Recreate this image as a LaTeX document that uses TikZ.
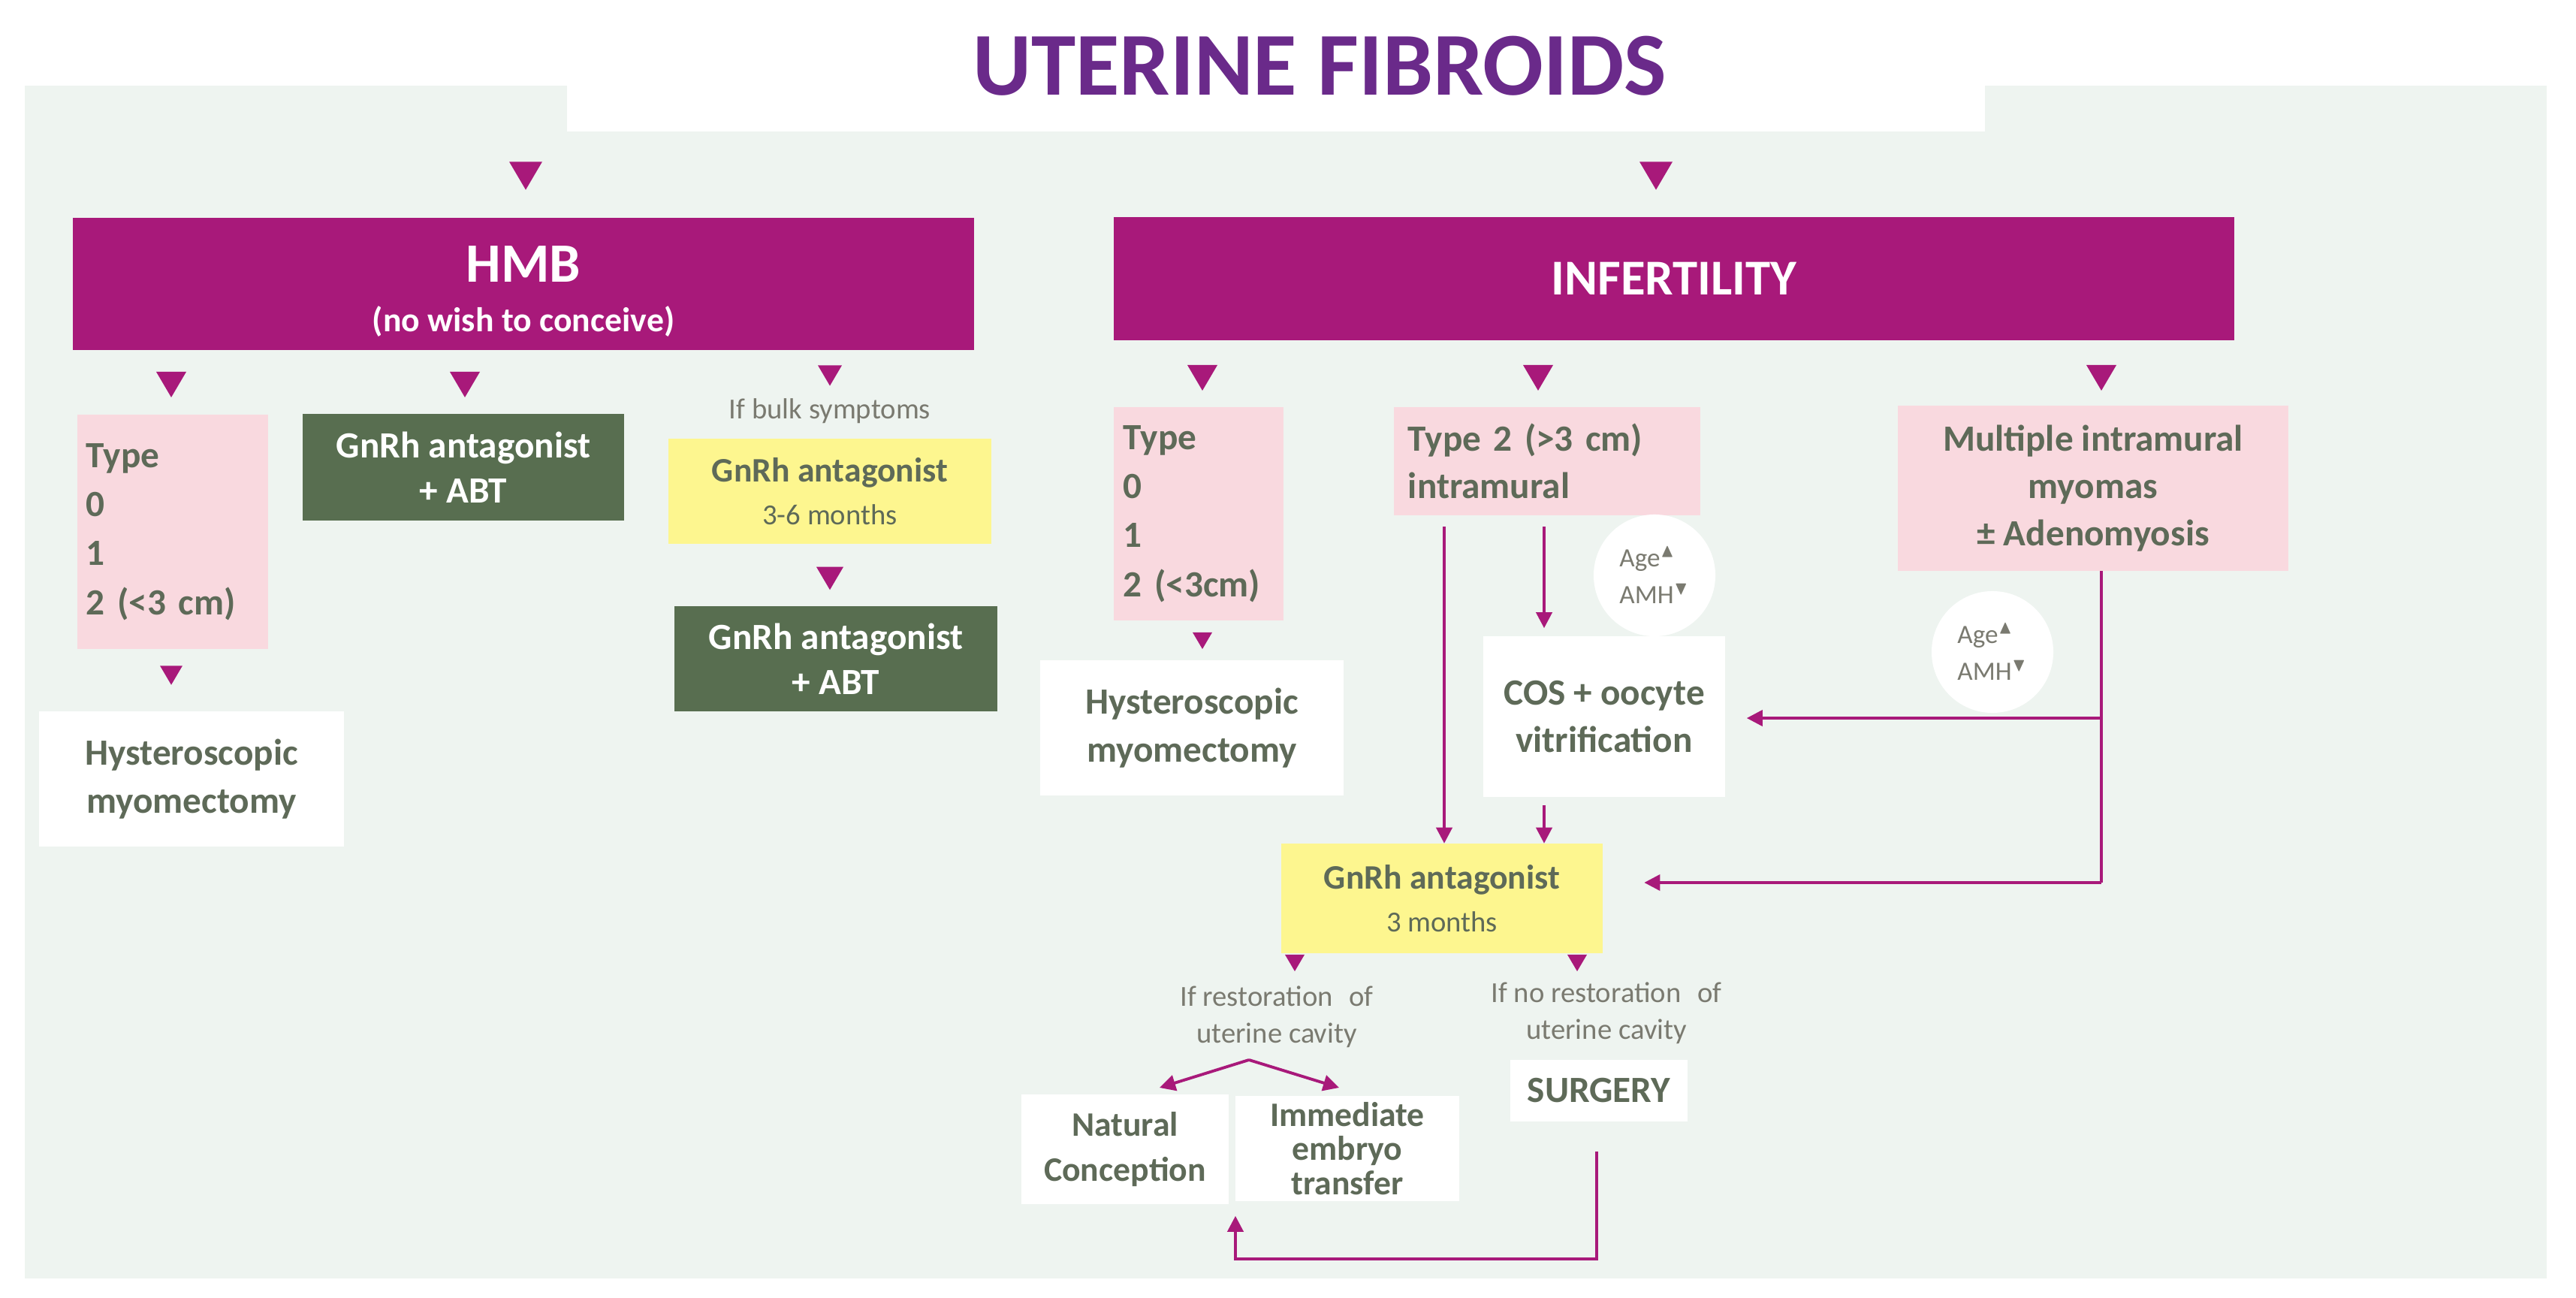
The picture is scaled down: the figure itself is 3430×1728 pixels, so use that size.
\documentclass[tikz,border=0pt]{standalone}
\usepackage{amssymb}
\usepackage{fontspec}
\setmainfont{Carlito}
\usetikzlibrary{arrows.meta,calc}
\definecolor{mag}{HTML}{A8197A}
\definecolor{ttl}{HTML}{6A2A8A}
\definecolor{bg}{HTML}{EEF4F0}
\definecolor{pinkc}{HTML}{F9D9DF}
\definecolor{grn}{HTML}{586E50}
\definecolor{yel}{HTML}{FDF68F}
\definecolor{txt}{HTML}{5E6A58}
\definecolor{gtx}{HTML}{7A7A70}
\tikzset{
 box/.style={rectangle,inner sep=0pt,align=center,text=txt,font=\fontsize{14}{17}\selectfont\bfseries},
 pinkb/.style={box,fill=pinkc},
 whiteb/.style={box,fill=white},
 greenb/.style={box,fill=grn,text=white},
 yelb/.style={box,fill=yel},
 magb/.style={box,fill=mag,text=white},
 note/.style={inner sep=0pt,align=center,text=gtx,font=\fontsize{11}{14}\selectfont},
 arr/.style={draw=mag,line width=1.1pt,-{Triangle[length=6pt,width=6pt]}},
 ln/.style={draw=mag,line width=1.1pt},
 tri/.pic={\fill[mag] (-1,-0.85)--(1,-0.85)--(0,0.85)--cycle;}
}
\begin{document}
\begin{tikzpicture}[x=0.01cm,y=-0.01cm]
\useasboundingbox (0,0) rectangle (3430,1728);
\fill[white] (0,0) rectangle (3430,1728);
\fill[bg] (33,114) rectangle (3391,1702);
\fill[white] (755,0) rectangle (2643,175);
\node[inner sep=0pt,text=ttl,font=\fontsize{34}{40}\selectfont\bfseries] (title) at (1757,88) {UTERINE FIBROIDS};
% top triangles
\pic[scale=22] at (700,234) {tri};
\pic[scale=22] at (2205,234) {tri};
% HMB
\node[magb,minimum width=12cm,minimum height=1.75cm] (hmb) at (697,378) {};
\node[text=white,font=\fontsize{21}{24}\selectfont\bfseries,inner sep=0pt] (hmbt) at (697,352) {HMB};
\node[text=white,font=\fontsize{13}{16}\selectfont\bfseries,inner sep=0pt] (hmbs) at (697,428) {(no wish to conceive)};
\node[magb,minimum width=14.92cm,minimum height=1.64cm,font=\fontsize{19}{22}\selectfont\bfseries] (inf) at (2229,371) {INFERTILITY};
% HMB branch
\pic[scale=20] at (228,512) {tri};
\pic[scale=20] at (619,512) {tri};
\pic[scale=16] at (1105,500) {tri};
\node[pinkb,minimum width=2.54cm,minimum height=3.11cm,text width=2.3cm,align=left,font=\fontsize{14}{18.6}\selectfont\bfseries] (ty1) at (230,708) {Type\\0\\1\\2 (<3 cm)};
\node[greenb,minimum width=4.28cm,minimum height=1.42cm] (g1) at (617,622) {GnRh antagonist\\+ ABT};
\node[note] (bulk) at (1105,547) {If bulk symptoms};
\node[yelb,minimum width=4.29cm,minimum height=1.4cm,font=\fontsize{13}{16}\selectfont\bfseries] (y1) at (1105,654) {GnRh antagonist\\{\fontsize{11}{14}\selectfont\mdseries 3-6 months}};
\pic[scale=18] at (1105,770) {tri};
\node[greenb,minimum width=4.29cm,minimum height=1.4cm] (g2) at (1113,877) {GnRh antagonist\\+ ABT};
\pic[scale=15] at (228,899) {tri};
\node[whiteb,minimum width=4.05cm,minimum height=1.8cm,font=\fontsize{14}{18}\selectfont\bfseries] (hy1) at (255,1037) {Hysteroscopic\\myomectomy};
% Infertility branch
\pic[scale=20] at (1601,503) {tri};
\pic[scale=20] at (2048,503) {tri};
\pic[scale=20] at (2798,503) {tri};
\node[pinkb,minimum width=2.25cm,minimum height=2.83cm,text width=2.0cm,align=left,font=\fontsize{14}{18.6}\selectfont\bfseries] (ty2) at (1596,684) {Type\\0\\1\\2 (<3cm)};
\pic[scale=13] at (1601,853) {tri};
\node[whiteb,minimum width=4.04cm,minimum height=1.8cm,font=\fontsize{14}{18}\selectfont\bfseries] (hy2) at (1587,969) {Hysteroscopic\\myomectomy};
\node[pinkb,minimum width=4.07cm,minimum height=1.43cm,text width=3.7cm,align=left,font=\fontsize{14}{18}\selectfont\bfseries] (t2) at (2060,614) {Type 2 (>3 cm)\\intramural};
\node[pinkb,minimum width=5.2cm,minimum height=2.19cm,font=\fontsize{14}{18}\selectfont\bfseries] (mult) at (2787,650) {Multiple intramural\\myomas\\± Adenomyosis};
\node[circle,fill=white,minimum size=1.62cm,inner sep=0pt] (c1) at (2203,766) {};
\node[note,font=\fontsize{10}{14}\selectfont,align=left] (c1t) at (2203,766) {Age$^{\blacktriangle}$\\AMH$^{\blacktriangledown}$};
\node[circle,fill=white,minimum size=1.62cm,inner sep=0pt] (c2) at (2653,868) {};
\node[note,font=\fontsize{10}{14}\selectfont,align=left] (c2t) at (2653,868) {Age$^{\blacktriangle}$\\AMH$^{\blacktriangledown}$};
\node[whiteb,minimum width=3.22cm,minimum height=2.14cm,font=\fontsize{14}{18}\selectfont\bfseries] (cos) at (2136,954) {COS + oocyte\\vitrification};
\node[yelb,minimum width=4.27cm,minimum height=1.45cm,font=\fontsize{13}{16}\selectfont\bfseries] (y2) at (1920,1196) {GnRh antagonist\\{\fontsize{11}{14}\selectfont\mdseries 3 months}};
\pic[scale=13] at (1724,1282) {tri};
\pic[scale=13] at (2100,1282) {tri};
\node[note] (rest) at (1700,1354) {If restoration\,\, of\\uterine cavity};
\node[note] (nrest) at (2139,1349) {If no restoration\,\, of\\uterine cavity};
\node[whiteb,minimum width=2.75cm,minimum height=1.46cm,font=\fontsize{13}{17}\selectfont\bfseries] (nat) at (1498,1530) {Natural\\Conception};
\node[whiteb,minimum width=2.98cm,minimum height=1.4cm,font=\fontsize{13}{13}\selectfont\bfseries] (imm) at (1794,1529) {Immediate\\embryo\\transfer};
\node[whiteb,minimum width=2.35cm,minimum height=0.81cm,font=\fontsize{14}{17}\selectfont\bfseries] (surg) at (2129,1452) {SURGERY};
% connectors
\coordinate (lA) at (1923,0);
\coordinate (lB) at (2056,0);
\coordinate (lM) at (2798,0);
\draw[arr] ($(t2.south -| lA)+(0,15)$) -- (y2.north -| lA);
\draw[arr] ($(t2.south -| lB)+(0,15)$) -- ($(cos.north -| lB)+(0,-10)$);
\draw[arr] ($(cos.south -| lB)+(0,10)$) -- (y2.north -| lB);
\coordinate (m1) at (2798,956);
\coordinate (m2) at (2798,1175);
\draw[ln] (mult.south -| lM) -- (m2);
\draw[arr] (m1) -- ($(cos.east |- m1)+(28,0)$);
\draw[arr] (m2) -- ($(y2.east |- m2)+(55,0)$);
\coordinate (ap) at (1663,1411);
\draw[arr] (ap) -- (1544,1448);
\draw[arr] (ap) -- (1783,1448);
\coordinate (s1) at (2126,1531);
\coordinate (s2) at (2126,1676);
\coordinate (s3) at (1645,1676);
\draw[arr] ($(surg.south -| s1)+(0,40)$) -- (s2) -- (s3) -- ($(nat.south -| s3)+(0,15)$);
\end{tikzpicture}
\end{document}
